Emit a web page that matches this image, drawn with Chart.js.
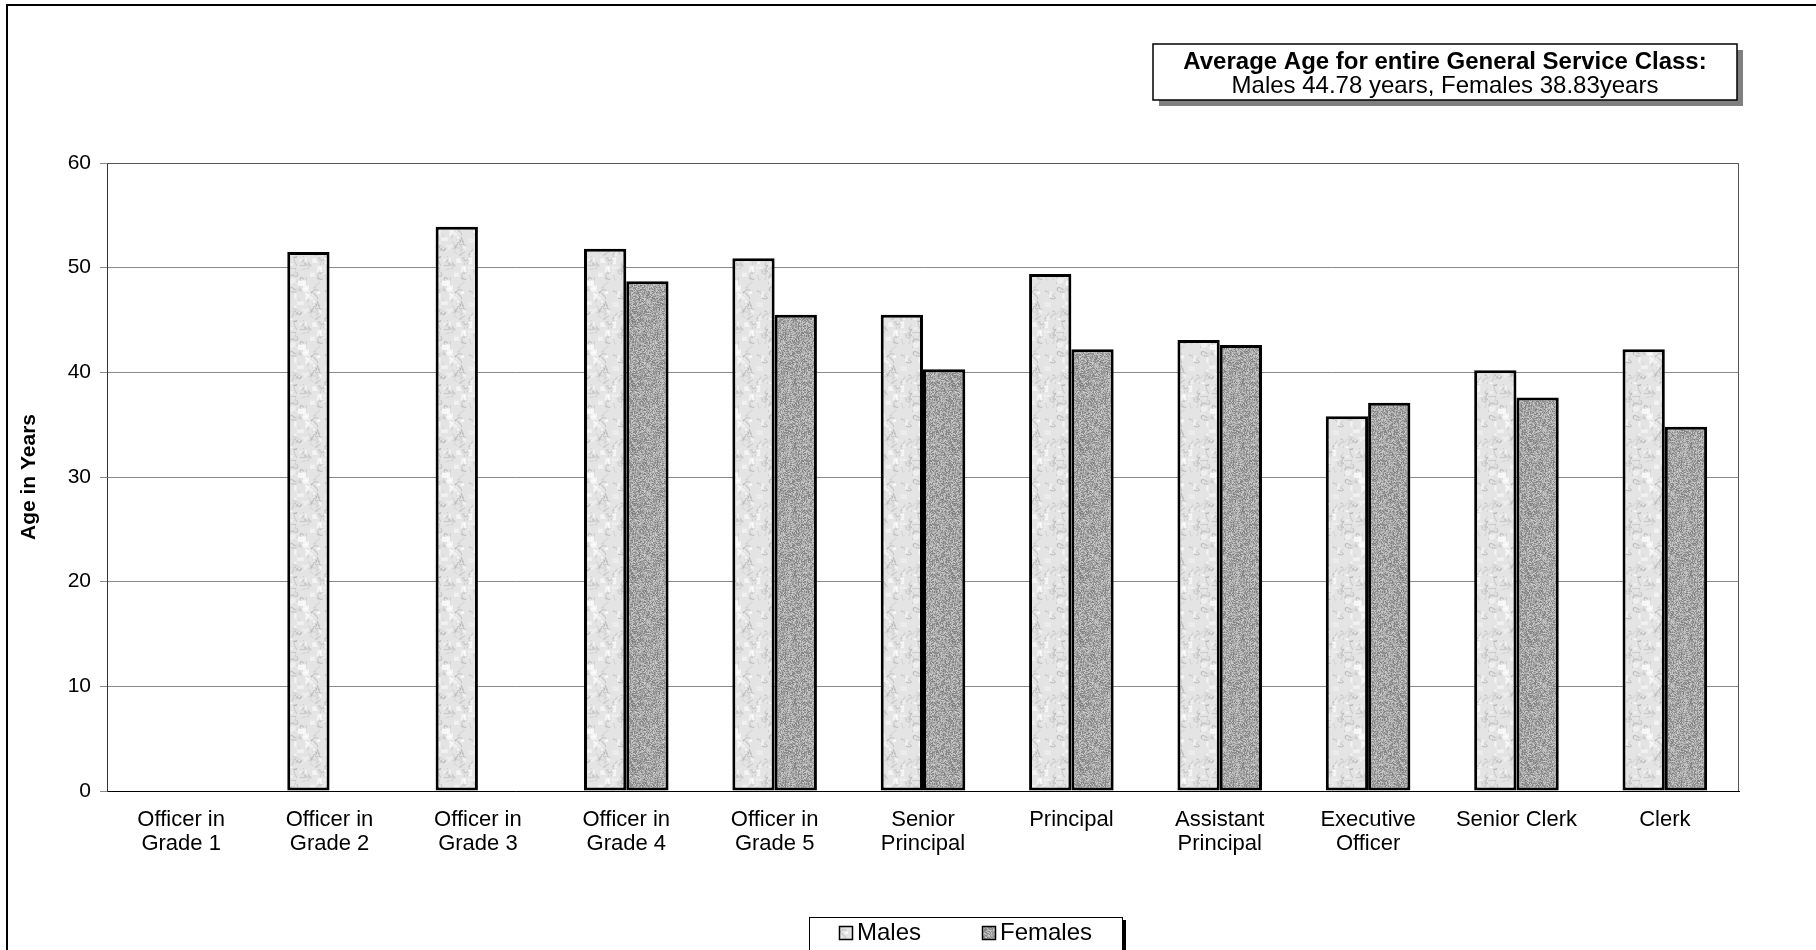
<!DOCTYPE html>
<html>
<head>
<meta charset="utf-8">
<title>Average Age by Grade</title>
<script src="https://cdn.jsdelivr.net/npm/chart.js@4.4.1/dist/chart.umd.min.js"></script>
<style>
  html, body { margin: 0; padding: 0; background: #fff; overflow: hidden; }
  #wrap { width: 1816px; height: 950px; }
</style>
</head>
<body>
<div id="wrap"><canvas id="ageChart" width="1816" height="950"></canvas></div>
<script>
const categories = [
  ["Officer in", "Grade 1"], ["Officer in", "Grade 2"], ["Officer in", "Grade 3"],
  ["Officer in", "Grade 4"], ["Officer in", "Grade 5"], ["Senior", "Principal"],
  "Principal", ["Assistant", "Principal"], ["Executive", "Officer"], "Senior Clerk", "Clerk"
];
const males   = [null, 51.5, 53.9, 51.8, 50.9, 45.5, 49.4, 43.1, 35.8, 40.2, 42.2];
const females = [null, null, null, 48.7, 45.5, 40.3, 42.2, 42.6, 37.1, 37.6, 34.8];
const yTicks = [0, 10, 20, 30, 40, 50, 60];
const seriesNames = ["Males", "Females"];
const noteTitle = "Average Age for entire General Service Class:";
const noteText = "Males 44.78 years, Females 38.83years";

const FONT = "'Liberation Sans', Arial, sans-serif";

// small seeded generator so the fill textures look the same every time
function lcg(seed) {
  let s = seed >>> 0;
  return () => { s = (s * 1664525 + 1013904223) >>> 0; return s / 4294967296; };
}

// light marbled fill for the male bars
function marblePattern() {
  const c = document.createElement("canvas");
  c.width = 48; c.height = 64;
  const g = c.getContext("2d");
  const rnd = lcg(7);
  g.fillStyle = "#e4e4e4";
  g.fillRect(0, 0, c.width, c.height);
  for (let i = 0; i < 70; i++) {
    const x = rnd() * c.width, y = rnd() * c.height;
    const v = 150 + rnd() * 40 | 0;
    g.strokeStyle = `rgba(${v},${v},${v},${0.25 + rnd() * 0.35})`;
    g.lineWidth = 0.6 + rnd() * 0.8;
    g.beginPath();
    g.moveTo(x, y);
    g.quadraticCurveTo(x + (rnd() - 0.5) * 14, y + (rnd() - 0.5) * 14, x + (rnd() - 0.5) * 16, y + (rnd() - 0.5) * 16);
    g.stroke();
  }
  for (let i = 0; i < 30; i++) {
    g.fillStyle = `rgba(255,255,255,${0.3 + rnd() * 0.4})`;
    g.fillRect(rnd() * c.width, rnd() * c.height, 2 + rnd() * 5, 2 + rnd() * 5);
  }
  return g.createPattern(c, "repeat");
}

// dark speckled fill for the female bars
function grainPattern() {
  const c = document.createElement("canvas");
  c.width = 64; c.height = 64;
  const g = c.getContext("2d");
  const img = g.createImageData(64, 64);
  const rnd = lcg(11);
  for (let i = 0; i < img.data.length; i += 4) {
    const v = 125 + rnd() * 80 | 0;
    img.data[i] = img.data[i + 1] = img.data[i + 2] = v;
    img.data[i + 3] = 255;
  }
  g.putImageData(img, 0, 0);
  return g.createPattern(c, "repeat");
}

const maleFill = marblePattern();
const femaleFill = grainPattern();
const fills = [maleFill, femaleFill];

const decorations = {
  id: "decorations",
  beforeDraw(chart) {
    const ctx = chart.ctx;
    ctx.save();
    ctx.fillStyle = "#fff";
    ctx.fillRect(0, 0, chart.width, chart.height);
    // outer frame, top and left edges
    ctx.strokeStyle = "#000";
    ctx.lineWidth = 2;
    ctx.beginPath();
    ctx.moveTo(7, chart.height);
    ctx.lineTo(7, 5);
    ctx.lineTo(chart.width, 5);
    ctx.stroke();
    ctx.restore();
  },
  afterDatasetsDraw(chart) {
    const { ctx, chartArea: a } = chart;
    ctx.save();
    ctx.strokeStyle = "#555";
    ctx.lineWidth = 1;
    ctx.beginPath();
    ctx.moveTo(a.left, a.top + 0.5);
    ctx.lineTo(a.right - 0.5, a.top + 0.5);
    ctx.lineTo(a.right - 0.5, a.bottom);
    ctx.stroke();
    ctx.restore();
  },
  afterDraw(chart) {
    const ctx = chart.ctx;
    ctx.save();

    // note box with averages
    const nx = 1153, ny = 44, nw = 584, nh = 56;
    ctx.fillStyle = "#808080";
    ctx.fillRect(nx + 6, ny + 6, nw, nh);
    ctx.fillStyle = "#fff";
    ctx.fillRect(nx, ny, nw, nh);
    ctx.strokeStyle = "#000";
    ctx.lineWidth = 1.5;
    ctx.strokeRect(nx, ny, nw, nh);
    ctx.fillStyle = "#000";
    ctx.textAlign = "center";
    ctx.textBaseline = "middle";
    ctx.font = `bold 24px ${FONT}`;
    ctx.fillText(noteTitle, nx + nw / 2, 62);
    ctx.font = `24px ${FONT}`;
    ctx.fillText(noteText, nx + nw / 2, 86);

    // legend box
    const lx = 809, ly = 917, lw = 313, lh = 33;
    ctx.fillStyle = "#000";
    ctx.fillRect(lx + lw, ly + 3, 4, lh);
    ctx.fillStyle = "#fff";
    ctx.fillRect(lx, ly, lw, lh);
    ctx.strokeStyle = "#000";
    ctx.lineWidth = 1;
    ctx.strokeRect(lx + 0.5, ly + 0.5, lw, lh);
    const items = [{ sx: 839, tx: 857 }, { sx: 982, tx: 1000 }];
    ctx.font = `24px ${FONT}`;
    ctx.textAlign = "left";
    items.forEach((it, i) => {
      ctx.fillStyle = fills[i];
      ctx.fillRect(it.sx, 926, 13, 13);
      ctx.strokeStyle = "#000";
      ctx.lineWidth = 1.5;
      ctx.strokeRect(it.sx + 0.5, 926.5, 13, 13);
      ctx.fillStyle = "#000";
      ctx.fillText(seriesNames[i], it.tx, 933);
    });
    ctx.restore();
  }
};

new Chart(document.getElementById("ageChart"), {
  type: "bar",
  data: {
    labels: categories,
    datasets: [
      {
        label: seriesNames[0],
        data: males,
        backgroundColor: maleFill,
        borderColor: "#000",
        borderWidth: 3,
        borderSkipped: false,
      },
      {
        label: seriesNames[1],
        data: females,
        backgroundColor: femaleFill,
        borderColor: "#000",
        borderWidth: 3,
        borderSkipped: false,
      },
    ],
  },
  options: {
    responsive: false,
    animation: false,
    devicePixelRatio: 1,
    categoryPercentage: 0.57,
    barPercentage: 1,
    layout: {
      padding: { left: 0, right: 77, top: 163, bottom: 0 },
    },
    scales: {
      x: {
        grid: { display: false, drawTicks: false },
        border: { color: "#000", width: 1 },
        ticks: {
          color: "#000",
          autoSkip: false,
          maxRotation: 0,
          padding: 17,
          font: { family: FONT, size: 22, lineHeight: 1.1 },
        },
        afterFit(scale) { scale.height = 159; },
      },
      y: {
        min: 0,
        max: 60,
        afterBuildTicks(scale) { scale.ticks = yTicks.map(v => ({ value: v })); },
        grid: { color: "#8a8a8a", lineWidth: 1, tickLength: 7 },
        border: { color: "#333", width: 1 },
        ticks: {
          color: "#000",
          padding: 9,
          font: { family: FONT, size: 21 },
        },
        title: {
          display: true,
          text: "Age in Years",
          color: "#000",
          padding: { top: 17, bottom: 0 },
          font: { family: FONT, size: 21, weight: "bold" },
        },
        afterFit(scale) { scale.width = 107; },
      },
    },
    plugins: {
      legend: { display: false },
      tooltip: { enabled: false },
    },
  },
  plugins: [decorations],
});
</script>
</body>
</html>
